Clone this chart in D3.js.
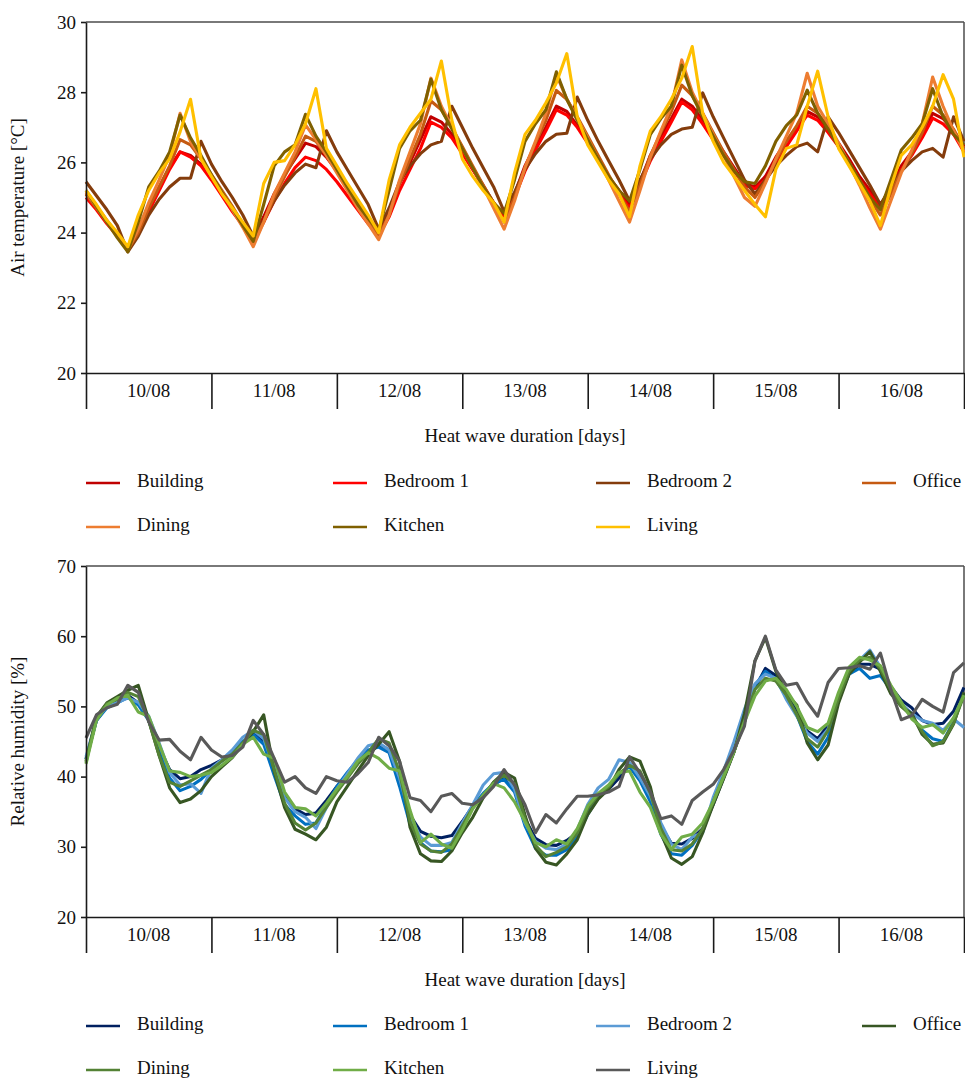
<!DOCTYPE html>
<html>
<head>
<meta charset="utf-8">
<script src="https://cdn.jsdelivr.net/npm/d3@7"></script>
<style>
    body { margin: 0; background: #fff; }
    svg text { font-family: "Liberation Serif", "Times New Roman", serif; fill: #111; }
</style>
</head>
<body>
<div id="chart"></div>
<script>
// ---- data (2-hourly readings, 10/08 00:00 -> 17/08 00:00) ----
const days = ["10/08", "11/08", "12/08", "13/08", "14/08", "15/08", "16/08"];
const rooms = ["Building", "Bedroom 1", "Bedroom 2", "Office", "Dining", "Kitchen", "Living"];
const stepHours = 2;
const tempTicks = [20, 22, 24, 26, 28, 30];
const rhTicks = [20, 30, 40, 50, 60, 70];
const tempColors = ["#c00000", "#ff0000", "#843c0c", "#c55a11", "#ed7d31", "#7f6000", "#ffc000"];
const rhColors = ["#002060", "#0070c0", "#5b9bd5", "#375623", "#548235", "#70ad47", "#595959"];

const tempBuilding = [
    25.1, 24.75, 24.35, 23.95, 23.5, 24.05, 24.7, 25.3, 25.85, 26.3, 26.2, 25.95,
    25.55, 25.1, 24.7, 24.25, 23.85, 24.45, 25.1, 25.65, 26.1, 26.55, 26.45, 26.15,
    25.75, 25.3, 24.85, 24.4, 23.95, 24.55, 25.4, 26.0, 26.65, 27.3, 27.15, 26.8,
    26.3, 25.8, 25.35, 24.85, 24.45, 25.1, 25.9, 26.5, 27.0, 27.6, 27.45, 27.05,
    26.6, 26.1, 25.6, 25.2, 24.8, 25.45, 26.2, 26.75, 27.25, 27.8, 27.6, 27.2,
    26.75, 26.3, 25.85, 25.4, 25.3, 25.6, 26.15, 26.6, 27.0, 27.45, 27.3, 26.95,
    26.55, 26.1, 25.6, 25.2, 24.75, 25.3, 25.9, 26.3, 26.8, 27.4, 27.25, 26.9,
    26.45];
const tempBedroom1 = [
    25.0, 24.65, 24.25, 23.9, 23.55, 24.0, 24.6, 25.2, 25.8, 26.3, 26.15, 25.9,
    25.5, 25.05, 24.6, 24.2, 23.75, 24.3, 24.9, 25.4, 25.85, 26.15, 26.05, 25.8,
    25.45, 25.05, 24.65, 24.25, 23.9, 24.45, 25.2, 25.8, 26.4, 27.15, 27.0, 26.7,
    26.25, 25.8, 25.3, 24.85, 24.4, 25.0, 25.75, 26.35, 26.9, 27.5, 27.35, 27.0,
    26.55, 26.05, 25.55, 25.1, 24.7, 25.35, 26.05, 26.6, 27.15, 27.72, 27.5, 27.1,
    26.65, 26.2, 25.75, 25.35, 25.25, 25.5, 26.0, 26.45, 26.9, 27.35, 27.2, 26.85,
    26.45, 26.0, 25.5, 25.1, 24.7, 25.2, 25.8, 26.2, 26.7, 27.26, 27.1, 26.8,
    26.3];
const tempBedroom2 = [
    25.45, 25.05, 24.65, 24.2, 23.45, 23.9, 24.5, 24.95, 25.3, 25.55, 25.55, 26.6,
    25.95, 25.45, 25.0, 24.5, 23.9, 24.35, 24.9, 25.35, 25.7, 25.95, 25.85, 26.9,
    26.3, 25.8, 25.3, 24.8, 24.1, 24.7, 25.45, 25.9, 26.25, 26.5, 26.6, 27.6,
    27.0, 26.4, 25.85, 25.3, 24.6, 25.15, 25.8, 26.25, 26.6, 26.8, 26.83, 27.86,
    27.2, 26.6, 26.05, 25.5, 24.9, 25.5, 26.1, 26.5, 26.8, 26.95, 27.0, 27.98,
    27.3, 26.7, 26.1, 25.5, 25.1, 25.5, 25.9, 26.2, 26.45, 26.55, 26.3, 27.3,
    26.85, 26.35, 25.85, 25.35, 24.8, 25.3, 25.75, 26.05, 26.3, 26.4, 26.15, 27.3,
    26.6];
const tempOffice = [
    25.1, 24.7, 24.3, 23.9, 23.5, 24.0, 24.7, 25.3, 25.9, 26.65, 26.5, 26.1,
    25.65, 25.2, 24.75, 24.25, 23.7, 24.3, 25.0, 25.6, 26.15, 26.75, 26.6, 26.2,
    25.75, 25.3, 24.8, 24.35, 23.9, 24.5, 25.4, 26.1, 26.8, 27.75, 27.5, 27.0,
    26.45, 25.9, 25.35, 24.85, 24.3, 25.0, 25.85, 26.55, 27.2, 28.05, 27.8, 27.3,
    26.75, 26.2, 25.65, 25.1, 24.6, 25.35, 26.2, 26.85, 27.45, 28.2, 27.9, 27.4,
    26.85, 26.3, 25.8, 25.3, 25.0, 25.45, 26.05, 26.6, 27.05, 27.6, 27.4, 27.0,
    26.5, 26.0, 25.45, 24.95, 24.5, 25.1, 25.75, 26.25, 26.85, 27.6, 27.35, 26.95,
    26.4];
const tempDining = [
    25.15, 24.75, 24.3, 23.9, 23.5, 24.1, 24.85, 25.5, 26.2, 27.4, 26.6, 26.1,
    25.6, 25.15, 24.65, 24.15, 23.6, 24.3, 25.1, 25.7, 26.3, 27.07, 26.65, 26.2,
    25.7, 25.2, 24.7, 24.25, 23.8, 24.5, 25.5, 26.3, 27.1, 28.4, 27.6, 27.0,
    26.4, 25.85, 25.3, 24.7, 24.1, 24.9, 25.85, 26.6, 27.4, 28.5, 27.8, 27.25,
    26.7, 26.1, 25.5, 24.9, 24.3, 25.2, 26.15, 26.9, 27.6, 28.92, 28.0, 27.4,
    26.8, 26.2, 25.6, 25.0, 24.75, 25.4, 26.1, 26.75, 27.4, 28.54, 27.6, 27.1,
    26.55, 25.95, 25.35, 24.7, 24.1, 24.9, 25.7, 26.35, 27.1, 28.43, 27.6, 26.9,
    26.3];
const tempKitchen = [
    25.2, 24.75, 24.3, 23.85, 23.45, 24.3, 25.3, 25.75, 26.3, 27.35, 26.7, 26.2,
    25.65, 25.15, 24.7, 24.2, 23.75, 24.8, 25.9, 26.3, 26.5, 27.37, 26.75, 26.3,
    25.8, 25.3, 24.8, 24.4, 24.05, 25.2, 26.4, 26.9, 27.2, 28.37, 27.5, 26.95,
    26.4, 25.85, 25.3, 24.85, 24.55, 25.5, 26.6, 27.1, 27.5, 28.58, 27.8, 27.2,
    26.65, 26.1, 25.6, 25.2, 24.9, 25.8, 26.8, 27.25, 27.6, 28.77, 27.9, 27.3,
    26.75, 26.2, 25.75, 25.45, 25.4, 25.9, 26.6, 27.05, 27.35, 28.06, 27.4, 26.95,
    26.45, 26.0, 25.5, 25.0, 24.65, 25.5, 26.35, 26.7, 27.1, 28.1, 27.3, 26.8,
    26.5];
const tempLiving = [
    25.2, 24.8, 24.35, 24.0, 23.6, 24.5, 25.2, 25.7, 26.1, 26.87, 27.8, 26.1,
    25.6, 25.1, 24.7, 24.3, 23.9, 25.4, 26.0, 26.05, 26.5, 27.1, 28.1, 26.4,
    25.9, 25.4, 24.95, 24.5, 24.0, 25.5, 26.5, 27.0, 27.4, 27.8, 28.89, 27.2,
    26.1, 25.6, 25.2, 24.85, 24.3, 25.7, 26.8, 27.2, 27.7, 28.26, 29.1, 27.3,
    26.5, 26.0, 25.5, 25.1, 24.45, 25.9, 26.9, 27.3, 27.8, 28.4, 29.3, 27.4,
    26.6, 26.0, 25.6, 25.2, 24.8, 24.45, 25.8, 26.4, 26.5, 27.6, 28.6, 27.3,
    26.4, 25.9, 25.4, 24.9, 24.2, 25.3, 26.2, 26.5, 27.0, 27.6, 28.5, 27.8,
    26.15];

const rhBuilding = [
    42.5, 48.0, 50.0, 50.8, 51.6, 50.5, 48.3, 44.2, 41.0, 39.7, 40.0, 41.0,
    41.6, 42.4, 43.3, 44.8, 46.2, 45.0, 41.2, 37.2, 35.4, 34.6, 34.8, 36.6,
    38.6, 40.3, 42.2, 43.5, 44.6, 43.8, 39.5, 34.5, 32.2, 31.5, 31.3, 31.6,
    33.6, 35.8, 37.2, 38.8, 39.8, 38.5, 34.0, 31.2, 30.3, 30.2, 30.9, 32.0,
    35.0, 37.0, 38.2, 39.8, 41.8, 40.0, 37.0, 33.0, 30.5, 30.4, 31.2, 32.6,
    36.0, 39.8, 43.6, 47.8, 52.6, 55.4, 54.4, 51.8, 49.3, 46.5, 45.4, 47.3,
    51.5, 54.6, 56.0, 56.0, 55.3, 52.8, 50.9, 49.8, 48.0, 47.4, 47.6, 49.3,
    52.7];
const rhBedroom1 = [
    42.5, 48.0, 49.8, 50.5, 51.3, 50.2, 48.0, 43.6, 39.8, 38.0, 38.6, 39.6,
    41.0, 42.2, 43.4, 45.0, 46.0, 44.6, 40.2, 36.0, 34.4, 33.2, 33.4, 36.0,
    38.6, 40.6, 42.4, 43.8, 44.2, 43.4, 38.6, 33.2, 30.6, 29.4, 29.3, 29.6,
    32.8, 35.8, 37.6, 39.0, 39.6, 37.8, 33.0, 29.8, 28.8, 28.8, 29.6, 31.6,
    34.6, 37.0, 38.6, 40.4, 41.4, 39.4, 36.4, 31.8, 29.0, 28.8, 30.2, 32.4,
    36.2, 40.0, 44.0, 48.4, 53.0, 55.0, 53.8, 51.4, 48.8, 45.0, 43.2, 45.6,
    51.0, 54.6, 55.4, 54.0, 54.4, 52.4, 50.2, 48.6, 46.6, 45.4, 45.0, 47.8,
    51.8];
const rhBedroom2 = [
    42.8, 48.2, 50.0, 50.6, 51.2, 50.6, 48.6, 44.8, 40.6, 38.8, 39.0, 37.6,
    41.2, 42.4, 43.8, 45.6, 46.6, 45.4, 41.4, 37.0, 35.0, 34.2, 32.6, 35.6,
    38.2, 40.4, 42.6, 44.4, 44.8, 43.8, 39.8, 34.4, 31.4, 30.2, 30.2, 30.6,
    33.4, 36.0, 38.8, 40.4, 40.6, 38.2, 33.4, 30.8, 29.8, 29.6, 30.4, 32.4,
    36.0, 38.4, 39.6, 42.4, 42.0, 39.8, 37.2, 33.4, 30.4, 29.6, 31.4, 32.0,
    37.0, 40.8, 45.0, 49.6, 53.2, 54.6, 54.0, 51.0, 48.6, 46.2, 45.0, 46.8,
    51.6, 55.0, 56.6, 58.0, 55.6, 52.6, 50.4, 49.0, 48.0, 47.6, 46.6, 48.2,
    47.0];
const rhOffice = [
    42.2, 48.5, 50.5, 51.4, 52.3, 53.0, 48.0, 43.0, 38.4, 36.3, 36.8, 38.0,
    40.0, 41.4, 42.7, 44.6, 46.4, 48.8, 40.8, 35.6, 32.5, 31.8, 31.0, 32.8,
    36.4, 38.6, 40.8, 43.0, 44.6, 46.4, 42.2, 32.8, 29.0, 28.0, 27.9, 29.4,
    32.0, 34.2, 37.0, 39.2, 40.6, 39.8, 34.5, 29.8, 27.8, 27.4, 29.0, 31.0,
    34.6, 36.8, 38.2, 41.0, 42.8, 42.2, 38.5, 32.0, 28.4, 27.5, 28.6, 32.0,
    36.0, 39.7, 43.5, 49.0, 56.5, 59.8, 55.0, 51.8, 50.2, 44.8, 42.4, 44.5,
    50.5, 54.6, 56.3, 57.8, 55.0, 51.8, 50.0, 49.0, 46.0, 44.6, 44.8, 47.5,
    52.0];
const rhDining = [
    42.0, 48.4, 50.4, 51.0, 52.0, 51.4, 48.0, 43.0, 39.2, 38.6, 39.4, 40.2,
    41.0, 42.2, 43.2, 44.8, 46.6, 46.0, 41.0, 36.2, 33.4, 32.4, 33.4, 35.6,
    37.8, 39.8, 41.8, 43.4, 45.4, 44.8, 40.6, 33.6, 30.4, 29.4, 29.2, 30.4,
    33.0, 35.6, 37.2, 39.2, 40.2, 39.0, 34.0, 30.2, 28.6, 29.2, 30.0, 32.0,
    35.4, 37.4, 38.6, 40.4, 41.6, 40.8, 37.6, 32.6, 29.6, 29.4, 30.4, 32.6,
    36.4, 40.0, 43.6, 48.0, 52.4, 54.0, 53.6, 51.6, 48.8, 45.4, 44.2, 46.6,
    51.2, 55.0, 56.6, 57.0, 55.4, 52.4, 50.0, 48.6, 46.4, 44.4, 45.0, 47.6,
    51.6];
const rhKitchen = [
    41.8, 48.0, 50.2, 51.2, 51.6, 49.2, 48.6, 44.6, 40.8, 40.6, 40.0, 40.2,
    40.6, 41.6, 42.8, 44.6, 45.6, 43.2, 42.6, 37.8, 35.6, 35.4, 34.4, 36.2,
    38.2, 40.0, 42.2, 43.4, 42.6, 41.2, 40.8, 35.2, 30.6, 31.8, 30.4, 29.8,
    32.4, 35.4, 37.4, 39.0, 38.4, 36.4, 33.6, 30.6, 30.0, 31.0, 30.4, 32.6,
    35.8, 37.6, 38.8, 40.6, 40.8, 37.8, 35.6, 31.8, 29.6, 31.4, 31.8, 33.4,
    36.4, 40.0, 43.6, 47.8, 51.5, 53.6, 54.0, 52.4, 50.0, 47.0, 46.4, 47.6,
    52.0, 55.6, 57.0, 56.6, 55.8, 53.0, 50.6, 48.2, 47.0, 47.4, 46.2, 48.4,
    51.6];
const rhLiving = [
    45.5, 48.8, 49.8, 50.3, 53.0, 52.0, 47.8, 45.2, 45.3, 43.6, 42.4, 45.6,
    43.8, 42.8, 43.0, 44.2, 48.0, 46.0, 42.6, 39.2, 40.0, 38.4, 37.6, 40.0,
    39.4, 39.2, 40.4, 42.0, 45.6, 44.4, 42.2, 37.0, 36.6, 35.0, 37.2, 37.6,
    36.2, 36.0, 37.0, 38.6, 41.0, 38.8, 36.0, 32.0, 34.6, 33.4, 35.4, 37.2,
    37.2, 37.4, 37.8, 38.6, 42.8, 40.5, 37.8, 34.0, 34.4, 33.2, 36.6, 37.8,
    38.9, 41.0, 43.8, 47.2, 56.5, 60.0, 55.2, 53.0, 53.3, 50.6, 48.6, 53.4,
    55.4, 55.5, 55.8, 55.3, 57.6, 52.4, 48.1, 48.7, 51.0, 50.0, 49.2, 54.8,
    56.2];

const tempSeries = [tempBuilding, tempBedroom1, tempBedroom2, tempOffice, tempDining, tempKitchen, tempLiving];
const rhSeries = [rhBuilding, rhBedroom1, rhBedroom2, rhOffice, rhDining, rhKitchen, rhLiving];

// ---- layout ----
const width = 965, height = 1083;
const left = 86, right = 964;
const fontSize = 19;
const legendCols = [86, 333, 596, 862];

const svg = d3.select("#chart").append("svg")
    .attr("width", width)
    .attr("height", height);

function drawPanel(opts) {
    const totalHours = days.length * 24;
    const x = d3.scaleLinear().domain([0, totalHours]).range([left, right]);
    const y = d3.scaleLinear().domain(d3.extent(opts.ticks)).range([opts.bottom, opts.top]);
    const band = d3.scaleBand().domain(days).range([left, right]);
    const g = svg.append("g");

    // frame top + right
    g.append("line")
        .attr("x1", left).attr("x2", right)
        .attr("y1", opts.top).attr("y2", opts.top)
        .style("stroke", "#4d4d4d").style("stroke-width", 1.5);
    g.append("line")
        .attr("x1", right).attr("x2", right)
        .attr("y1", opts.top).attr("y2", opts.bottom)
        .style("stroke", "#4d4d4d").style("stroke-width", 1.5);

    // series lines
    const line = d3.line()
        .x((d, i) => x(i * stepHours))
        .y(d => y(d));
    opts.series.forEach((s, j) => {
        g.append("path")
            .datum(s)
            .attr("d", line)
            .style("fill", "none")
            .style("stroke", opts.colors[j])
            .style("stroke-width", 3.1)
            .style("stroke-linejoin", "round");
    });

    // y axis
    const yAxis = g.append("g")
        .attr("transform", `translate(${left},0)`)
        .call(d3.axisLeft(y).tickValues(opts.ticks).tickSize(5).tickSizeOuter(0).tickPadding(5));
    yAxis.selectAll("text").style("font-size", fontSize + "px");

    // x axis: day separators
    const dayBounds = days.map((d, i) => i * 24).concat([totalHours]);
    g.append("g")
        .attr("transform", `translate(0,${opts.bottom})`)
        .call(d3.axisBottom(x).tickValues(dayBounds).tickSize(36).tickSizeOuter(0).tickFormat(""));

    g.selectAll(".domain, .tick line")
        .style("stroke", "#1a1a1a").style("stroke-width", 1.6);

    // day labels
    g.selectAll(".day-label")
        .data(days)
        .join("text")
        .attr("class", "day-label")
        .attr("x", d => band(d) + band.bandwidth() / 2)
        .attr("y", opts.bottom + 20)
        .attr("text-anchor", "middle")
        .attr("dominant-baseline", "middle")
        .style("font-size", fontSize + "px")
        .text(d => d);

    // axis titles
    g.append("text")
        .attr("x", (left + right) / 2)
        .attr("y", opts.bottom + 65)
        .attr("text-anchor", "middle")
        .attr("dominant-baseline", "middle")
        .style("font-size", fontSize + "px")
        .text("Heat wave duration [days]");
    g.append("text")
        .attr("transform", `translate(20,${(opts.top + opts.bottom) / 2}) rotate(-90)`)
        .attr("text-anchor", "middle")
        .attr("dominant-baseline", "middle")
        .style("font-size", fontSize + "px")
        .text(opts.yTitle);

    // legend
    const items = g.selectAll(".legend-item")
        .data(rooms)
        .join("g")
        .attr("class", "legend-item")
        .attr("transform", (d, i) => `translate(${legendCols[i % 4]},${opts.legendY[Math.floor(i / 4)]})`);
    items.append("line")
        .attr("x1", 0).attr("x2", 34)
        .style("stroke", (d, i) => opts.colors[i])
        .style("stroke-width", 2.6);
    items.append("text")
        .attr("x", 51)
        .attr("dominant-baseline", "middle")
        .style("font-size", fontSize + "px")
        .text(d => d);
}

drawPanel({
    top: 22, bottom: 373,
    ticks: tempTicks,
    series: tempSeries,
    colors: tempColors,
    yTitle: "Air temperature [°C]",
    legendY: [483, 527]
});

drawPanel({
    top: 566, bottom: 917,
    ticks: rhTicks,
    series: rhSeries,
    colors: rhColors,
    yTitle: "Relative humidity [%]",
    legendY: [1026, 1070]
});
</script>
</body>
</html>
